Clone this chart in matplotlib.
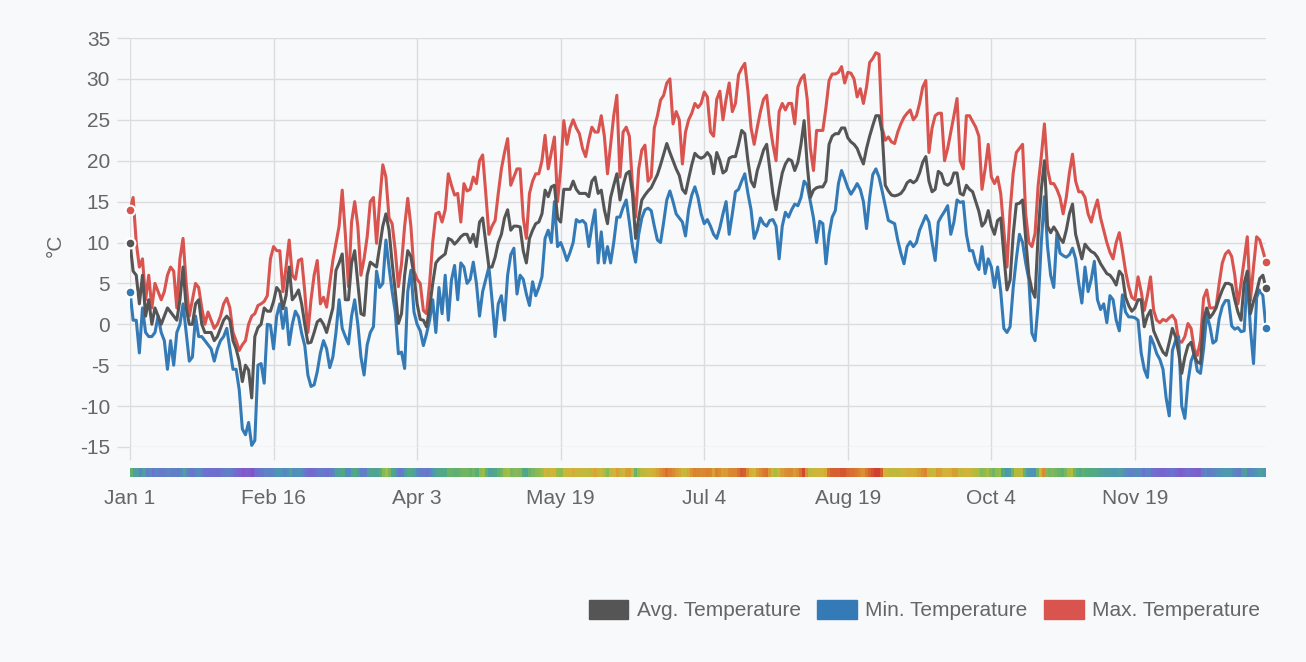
import matplotlib.pyplot as plt
import numpy as np
from matplotlib.patches import Patch
from matplotlib.colors import LinearSegmentedColormap

plt.rcParams['font.family'] = ['Liberation Sans', 'DejaVu Sans']
plt.rcParams['axes.unicode_minus'] = False

# x axis ticks (day of year) and labels
tick_days = [0, 46, 92, 138, 184, 230, 276, 322]
tick_labels = ['Jan 1', 'Feb 16', 'Apr 3', 'May 19', 'Jul 4', 'Aug 19', 'Oct 4', 'Nov 19']

# daily values (deg C), Jan 1 .. Dec 31
t_max = [
    14, 15.5, 10, 7, 8, 3, 6, 2, 5, 4,
    3, 4, 6, 7, 6.5, 2, 8, 10.5, 5, 1,
    3, 5, 4.5, 2, 0, 1.5, 0.5, -0.5, 0, 1,
    2.5, 3.2, 2, -1, -2, -3.2, -2.5, -2, 0, 1,
    1.3, 2.3, 2.5, 2.8, 3.5, 8, 9.5, 9, 9, 4,
    7, 10.3, 6, 5.5, 7.8, 8, 4, -1, 3, 6,
    7.8, 2.5, 3.3, 2.1, 5, 7.8, 9.9, 12, 16.4, 11,
    4.6, 12.5, 15, 12, 6, 8, 10.7, 15, 15.5, 9.9,
    15, 19.5, 18, 13, 12.3, 9, 4.6, 7.4, 12, 15.4,
    12, 6.5, 5.5, 5, 1.7, 1.3, 5, 10, 13.5, 13.7,
    12.5, 14, 18.4, 17, 15.8, 16, 12.5, 17.2, 16.3, 16.5,
    18, 17.2, 20, 20.7, 16, 11, 12, 12.7, 16, 19,
    21, 22.7, 17, 18, 19, 19, 13, 10.5, 16, 17.5,
    18.4, 18.4, 20, 23.1, 19, 21, 22.9, 15, 19, 24.9,
    22, 24, 25, 24, 23.3, 21.5, 20.5, 22.5, 24.1, 23.5,
    23.5, 25.5, 23, 18.4, 22, 25.5, 28, 18, 23.5, 24.1,
    23, 17, 13.1, 19, 21.3, 21.9, 17.5, 18, 24, 25.5,
    27.4, 28, 29.5, 30, 24.5, 26, 25, 19.6, 23.5, 25,
    25.8, 27, 26.5, 27, 28.4, 27.8, 23.5, 23, 27.5, 28.5,
    25, 27.5, 29.5, 26, 27, 30.5, 31.3, 31.9, 28.5, 24,
    22, 24.1, 26, 27.5, 28, 24.5, 22, 20, 26, 27,
    26.2, 27, 27, 24.5, 29, 30, 30.5, 27.5, 21.5, 18.8,
    23.7, 23.7, 23.7, 26.5, 29.8, 30.6, 30.6, 30.8, 31.5, 29.5,
    30.8, 30.7, 30, 27.8, 28.8, 27, 29, 32, 32.5, 33.2,
    33, 24, 22.5, 22.9, 22.3, 22.1, 23.5, 24.5, 25.3, 25.8,
    26.2, 25, 25.5, 27, 29, 29.8, 21, 24, 25.5, 25.8,
    25.8, 20, 21.5, 23.5, 25.5, 27.6, 20, 19, 25.5, 25.5,
    24.8, 24.1, 23, 16.5, 19, 22, 18, 17.2, 18, 16,
    11.5, 7, 13.9, 18.5, 21, 21.5, 22, 13.5, 10, 9.5,
    11.1, 17, 20.5, 24.5, 19, 17.2, 17.2, 16.5, 15.5, 13.5,
    15.5, 18.5, 20.8, 17.5, 16.2, 16.2, 15.5, 13.5, 12.5, 14,
    15.2, 13, 11.5, 10, 8.8, 8, 10, 11.2, 9, 6.5,
    4.6, 3.3, 3, 5.8, 4, 1.7, 3.5, 5.8, 1.7, 0.5,
    0.2, 0.6, 0.4, 0.8, 1.1, 0.5, -2, -2.2, -1.5, 0.1,
    -0.5, -3, -3.8, -2, 3.2, 4.2, 2, 2, 2.1, 5,
    7.5, 8.6, 9, 8.3, 6, 2.5, 5, 7.8, 10.7, 2.9,
    7, 10.7, 10.3, 9, 7.6,
]

t_avg = [
    10, 6.5, 6, 2.5, 6, 1, 3, 0, 2, 1,
    0, 1, 2, 1.5, 1, 0.5, 3, 7, 2, 0,
    0, 2.5, 3, 0, -1, -1, -1, -2, -1.5, -0.5,
    0.5, 1, 0.5, -2, -3, -4.5, -7, -5, -5.6, -9,
    -1.5, -0.4, 0, 2, 1.6, 1.6, 2.8, 4.5, 4, 1.9,
    3.5, 7, 3, 3.5, 4.2, 2.5, 0, -2.3, -2.2, -1,
    0.3, 0.6, 0, -1, 0.5, 2, 6.6, 7.5, 8.6, 3,
    3, 7.5, 9, 5, 1.3, 1.1, 6, 7.6, 7.3, 7,
    9.5, 12, 13.5, 11.5, 7.5, 4, 0.1, 1.3, 6, 9,
    8.3, 6, 2.5, 0.6, 0.5, -0.3, 2, 5, 7.5, 8,
    8.3, 8.6, 10.5, 10.3, 9.8, 10.2, 10.7, 11, 11, 10,
    11, 9.5, 12.5, 13, 10, 7, 7, 8.2, 10, 11,
    13, 14, 11.5, 12, 12, 11.9, 9, 7.5, 10.5, 11.5,
    12.3, 12.5, 13.5, 16.4, 15.6, 16.8, 17, 13, 12.5, 16.5,
    16.5, 16.5, 17.5, 16.5, 16, 16, 16, 15.6, 17.5, 18,
    16, 16.4, 14, 12.3, 15.5, 17, 18.4, 15.2, 17, 18.4,
    18.7, 16, 10.5, 13, 15.2, 15.8, 16.3, 16.7, 17.5, 18.3,
    19.5, 20.8, 22.1, 21, 20, 19, 18.2, 16.5, 16, 17.8,
    19.5, 20.9, 20.5, 20.3, 20.5, 21, 20.5, 18.4, 21, 20,
    18.5, 18.8, 20.3, 20.5, 20.5, 22, 23.7, 23.3, 20, 17.5,
    16.8, 18.8, 20, 21.3, 22, 19, 16, 14, 16.5, 18.5,
    19.6, 20.2, 20, 18.8, 19.8, 22, 24.9, 19.5, 15.5, 16.4,
    16.7, 16.8, 16.8, 17.5, 22, 23, 23.3, 23.3, 24, 24,
    22.8, 22.3, 22, 21.5, 20.5, 19.6, 21.5, 23, 24.3, 25.5,
    25.5, 23.5, 17, 16.3, 15.8, 15.7, 15.8, 16, 16.5, 17.3,
    17.6, 17.3, 17.6, 18.5, 19.8, 20.5, 17.5, 16.2, 16.5, 18.7,
    18.4, 17.2, 17, 17.3, 18.5, 18.5, 16, 15.8, 17, 16.5,
    16.2, 15, 13.8, 12, 12.5, 13.9, 12, 11, 12.7, 13,
    8.5, 4.2, 5.4, 11, 14.7, 14.8, 15.2, 10.5, 6, 4.2,
    3.3, 11, 16.5, 20, 12, 11.2, 11.9, 11.3, 10.5, 10,
    11.5, 13.5, 14.7, 11, 9.5, 8, 9.8, 9.3, 8.9, 8.7,
    8.2, 7.4, 6.8, 6.2, 6, 5.5, 4.8, 6.5, 6, 3.3,
    2.3, 1.6, 2, 3, 3, -0.3, 1, 1.7, -0.8, -1.7,
    -2.6, -3.4, -3.8, -2.2, -0.5, -1.5, -3.5, -6, -4, -2.6,
    -2.2, -3.8, -4.6, -4.8, 0.5, 2, 0.8, 1.3, 2, 3.2,
    4.2, 5, 5, 4.8, 3, 1.5, 0.5, 5, 6.5, 1.3,
    2.8, 4, 5.6, 6, 4.4,
]

t_min = [
    4, 0.5, 0.5, -3.5, 2, -1, -1.5, -1.5, -1, 1,
    -1, -2, -5.5, -2, -5, -1, 0, 2.5, -1, -4.5,
    -4, 1, -1.5, -1.5, -2, -2.5, -3, -4.5, -3, -2,
    -1.5, -0.5, -3, -5.5, -5.5, -8, -12.8, -13.5, -12, -14.8,
    -14.2, -5, -4.8, -7.2, 0, -0.1, -3, 1, 2.5, -0.5,
    2, -2.5, 0, 1.6, 0.9, -1.1, -2.6, -6.2, -7.6, -7.4,
    -5.8, -3.5, -2, -3, -5.3, -4, -1, 3, -0.5, -1.5,
    -2.4, 1, 3, 0, -4, -6.2, -2.5, -1, -0.3, 6.5,
    4.5, 5, 10.3, 7, 4, 1.5, -3.6, -3.4, -5.4, 4,
    6.6, 1.5, 0, -0.8, -2.6, -1.2, 0.5, 3, -1, 4.5,
    1.3, 6, 0.5, 5.4, 7.2, 3, 7.5, 7, 5, 5.5,
    7.6, 5, 1, 4, 5.5, 7, 3, -1.5, 2.5, 3.5,
    0.5, 6, 8.5, 9.3, 3.7, 6, 5.5, 3.7, 2.3, 5.2,
    3.5, 4.5, 5.8, 10.5, 11.5, 10, 15, 9.5, 10, 9,
    7.8, 8.8, 10, 12.8, 12.5, 12.7, 12.3, 9.5, 12, 14,
    7.5, 11.3, 7.5, 9.5, 7.5, 10, 13.1, 13.1, 14.3, 15.2,
    12.5, 9.5, 7.6, 11, 13, 14, 14.2, 13.9, 12, 10.3,
    10, 12.5, 15.2, 16.3, 15, 13.5, 13, 12.5, 10.8, 14,
    15.8, 16.8, 15.5, 13.5, 12.3, 12.8, 12, 11, 10.5, 11.8,
    13.5, 15, 11, 13.5, 16.2, 16.5, 17.5, 18.4, 16, 14,
    10.5, 11.5, 13, 12.3, 12, 12.7, 12.8, 12, 8, 12,
    13.7, 13.1, 14, 14.7, 14.5, 15.5, 17.5, 17, 15, 13,
    10, 12.6, 12.3, 7.4, 11, 13.1, 13.9, 17.2, 18.8, 17.8,
    16.7, 15.9, 16.5, 17.2, 16.5, 15, 11.7, 15.5, 18.3, 19,
    18, 16.3, 14.5, 12.7, 12.5, 12.3, 10.3, 8.7, 7.4, 9.5,
    10.1, 9.5, 10, 11.5, 12.4, 13.3, 12.5, 10, 7.8, 12.5,
    13.2, 13.8, 14.5, 11, 12.5, 15.2, 14.9, 15, 11, 9,
    9, 7.5, 6.7, 9.5, 6.2, 8, 7, 4.5, 7, 4,
    -0.5, -1, -0.3, 4.5, 8, 11, 10, 7.5, 5.5, -1.1,
    -2, 2.5, 10, 15.6, 9.5, 6, 4.5, 11.1, 8.7, 8.4,
    8.2, 8.5, 9.3, 8, 5, 2.6, 7, 4, 5.5, 7.7,
    3, 1.8, 2.5, 0.2, 3.5, 3, 0.5, -0.8, 3.6, 1.5,
    0.9, 0.9, 0.8, 0.5, -3.5, -5.5, -6.5, -1.5, -2.4, -3.6,
    -4.3, -5.5, -9, -11.2, -3.2, -2, -1.5, -10, -11.5, -7,
    -4.5, -3.5, -5.7, -6, -3, 1.2, -0.2, -2.3, -2, 0.7,
    2.2, 2.9, 2.9, -0.2, -0.6, -0.4, -0.9, -0.8, 6, -0.5,
    -4.8, 3.3, 4.2, 3.5, -0.5,
]

days = np.arange(len(t_avg))

bg = '#f8f9fa'
grid_c = '#dcdcdc'
text_c = '#666666'
c_avg = '#555555'
c_min = '#337ab7'
c_max = '#d9534f'

# muted temperature palette for the strip (cold purple -> teal -> yellow -> red)
strip_cmap = LinearSegmentedColormap.from_list('temp', [
    (0.00, '#8a4fc8'), (0.22, '#6f6fd0'), (0.38, '#4f95b8'),
    (0.52, '#52ad7c'), (0.64, '#9fbe45'), (0.74, '#d2b53a'),
    (0.86, '#dc7f30'), (1.00, '#cf3b30'),
])

W, H = 1306, 662
fig = plt.figure(figsize=(W / 100, H / 100), dpi=100, facecolor=bg)
ax = fig.add_axes([130 / W, 215 / H, 1136 / W, 409 / H], facecolor=bg)

# lines (avg on top, like the original)
for vals, c, z in [(t_max, c_max, 2), (t_min, c_min, 3), (t_avg, c_avg, 4)]:
    ax.plot(days, vals, color=c, lw=2.2, zorder=z, solid_joinstyle='round')
    ax.plot([days[0], days[-1]], [vals[0], vals[-1]], 'o', color=c, ms=7,
            mec='white', mew=1.5, zorder=z + 3, clip_on=False)

ax.set_xlim(0, 364)
ax.set_ylim(-15, 35)
ax.set_yticks(range(-15, 40, 5))
ax.set_xticks(tick_days)
ax.set_xticklabels(tick_labels)
ax.grid(color=grid_c, lw=1, zorder=0)
ax.tick_params(axis='both', length=9.4, width=1, color=grid_c,
               labelcolor=text_c, labelsize=15)
ax.tick_params(axis='x', pad=21)
ax.tick_params(axis='y', pad=5)
for s in ax.spines.values():
    s.set_visible(False)

# temperature colour strip under the plot
ax2 = fig.add_axes([130 / W, (H - 477) / H, 1136 / W, 9 / H])
ax2.imshow(np.array(t_avg)[None, :], aspect='auto', cmap=strip_cmap,
           vmin=-9, vmax=26, extent=(0, 365, 0, 1), interpolation='nearest')
ax2.axis('off')

fig.text(55 / W, 1 - 245 / H, '°C', rotation=90, ha='center', va='center',
         color=text_c, fontsize=15)

handles = [Patch(facecolor=c, edgecolor=c) for c in (c_avg, c_min, c_max)]
fig.legend(handles, ['Avg. Temperature', 'Min. Temperature', 'Max. Temperature'],
           loc='center right', bbox_to_anchor=(1260 / W, 1 - 610 / H), ncol=3,
           frameon=False, fontsize=15, labelcolor=text_c, handlelength=1.9,
           handleheight=1.05, handletextpad=0.4, columnspacing=0.8,
           borderaxespad=0, borderpad=0)

fig.savefig('out.png', dpi=100, facecolor=bg)
